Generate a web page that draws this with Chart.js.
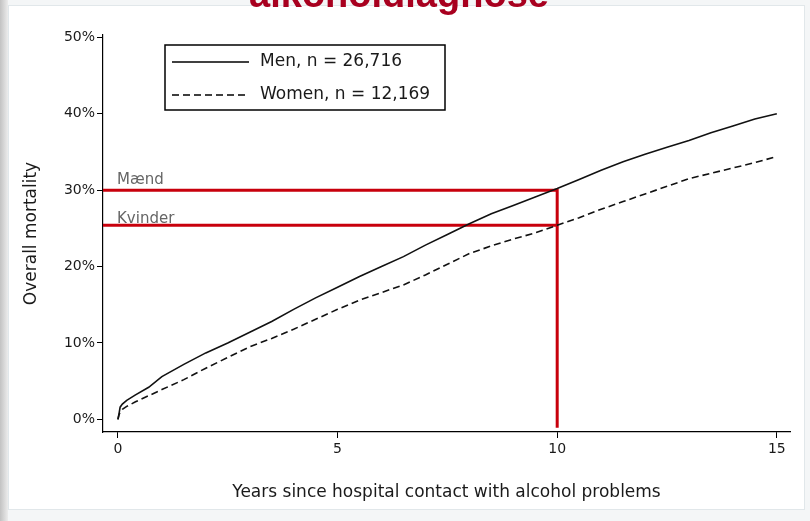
<!DOCTYPE html>
<html>
<head>
<meta charset="utf-8">
<script src="https://cdn.jsdelivr.net/npm/chart.js@4.4.1/dist/chart.umd.min.js"></script>
<style>
  html, body { margin: 0; padding: 0; width: 810px; height: 521px; overflow: hidden; background: #f4f6f7; }
  #strip { position: absolute; left: 0; top: 0; width: 8px; height: 521px; background: linear-gradient(to right, #c2c2c2, #ececec); }
  #panel { position: absolute; left: 8px; top: 5px; width: 797px; height: 505px; background: #fff; border: 1px solid #e1e7ea; box-sizing: border-box; }
  #title { position: absolute; left: 0; top: -25px; width: 798px; text-align: center; font: bold 38px "Liberation Sans", Arial, sans-serif; line-height: 38px; color: #a8001f; }
  canvas { position: absolute; left: 0; top: 0; }
</style>
</head>
<body>
<div id="strip"></div>
<div id="panel"></div>
<canvas id="chart" width="810" height="521"></canvas>
<div id="title">alkoholdiagnose</div>
<script>
// cumulative mortality (%)
const years = [0, 0.02, 0.05, 0.1, 0.2, 0.4, 0.7, 1, 1.5, 2, 2.5, 3, 3.5, 4, 4.5, 5, 5.5, 6, 6.5, 7, 7.5, 8,
  8.5, 9, 9.5, 10, 10.5, 11, 11.5, 12, 12.5, 13, 13.5, 14, 14.5, 15];
const menMortality = [0, 0.6, 1.6, 2.0, 2.5, 3.2, 4.2, 5.6, 7.2, 8.7, 10.0, 11.4, 12.8, 14.4, 15.9, 17.3, 18.7, 20.0,
  21.3, 22.8, 24.2, 25.6, 26.9, 28.0, 29.1, 30.2, 31.4, 32.6, 33.7, 34.7, 35.6, 36.5, 37.5, 38.4, 39.3, 40.0];
const womenMortality = [0, 0.5, 1.0, 1.3, 1.7, 2.3, 3.1, 3.9, 5.2, 6.7, 8.1, 9.5, 10.6, 11.8, 13.1, 14.4, 15.6, 16.6,
  17.6, 18.9, 20.3, 21.7, 22.7, 23.6, 24.4, 25.4, 26.4, 27.5, 28.5, 29.5, 30.5, 31.5, 32.2, 32.9, 33.6, 34.4];

const seriesLabels = ['Men, n = 26,716', 'Women, n = 12,169'];

// red marker at 10 years
const refYear = 10;
const refValues = [30, 25.4];
const refLabels = ['Mænd', 'Kvinder'];

const xTicks = [0, 5, 10, 15];
const yTicks = [0, 10, 20, 30, 40, 50];
const xMin = -0.34, xMax = 15.3;
const yMin = -1.65, yMax = 50.3;
const refBottom = -1.1;

const font = '"DejaVu Sans", sans-serif';
const red = '#c8000c';

const toPoints = (xs, ys) => xs.map((x, i) => ({x, y: ys[i]}));

const overlay = {
  id: 'overlay',
  afterDatasetsDraw(chart) {
    const {ctx, scales: {y}} = chart;
    ctx.save();
    // reference labels
    ctx.font = '15px ' + font;
    ctx.fillStyle = '#666';
    ctx.textBaseline = 'alphabetic';
    ctx.fillText(refLabels[0], chart.chartArea.left + 14, y.getPixelForValue(refValues[0]) - 6);
    ctx.fillText(refLabels[1], chart.chartArea.left + 14, y.getPixelForValue(refValues[1]) - 2);

    // legend box
    ctx.strokeStyle = '#000';
    ctx.lineWidth = 1.5;
    ctx.strokeRect(165, 45, 280, 65);
    const rows = [62, 95];
    chart.data.datasets.slice(0, 2).forEach((ds, i) => {
      ctx.beginPath();
      ctx.setLineDash(ds.borderDash || []);
      ctx.lineWidth = 1.5;
      ctx.moveTo(172, rows[i]);
      ctx.lineTo(249, rows[i]);
      ctx.stroke();
      ctx.setLineDash([]);
      ctx.font = '17px ' + font;
      ctx.fillStyle = '#1a1a1a';
      ctx.textBaseline = 'middle';
      ctx.fillText(ds.label, 260, rows[i]);
    });
    ctx.restore();
  }
};

new Chart(document.getElementById('chart'), {
  type: 'line',
  data: {
    datasets: [
      {label: seriesLabels[0], data: toPoints(years, menMortality), borderColor: '#111', borderWidth: 1.6,
        pointRadius: 0, tension: 0, order: 1},
      {label: seriesLabels[1], data: toPoints(years, womenMortality), borderColor: '#111', borderWidth: 1.6,
        borderDash: [7, 4], pointRadius: 0, tension: 0, order: 1},
      {label: refLabels[0], data: [{x: xMin, y: refValues[0]}, {x: refYear, y: refValues[0]}, {x: refYear, y: refBottom}],
        borderColor: red, borderWidth: 3, pointRadius: 0, order: 2},
      {label: refLabels[1], data: [{x: xMin, y: refValues[1]}, {x: refYear, y: refValues[1]}],
        borderColor: red, borderWidth: 3, pointRadius: 0, order: 2}
    ]
  },
  options: {
    responsive: false,
    animation: false,
    layout: {padding: {left: 0, right: 20, top: 35, bottom: 0}},
    plugins: {legend: {display: false}, tooltip: {enabled: false}},
    scales: {
      x: {
        type: 'linear', min: xMin, max: xMax,
        afterBuildTicks: s => { s.ticks = xTicks.map(v => ({value: v})); },
        afterFit: s => { s.height = 89; },
        grid: {display: true, drawOnChartArea: false, drawTicks: true, tickLength: 6, color: '#000', lineWidth: 1},
        border: {display: true, color: '#000', width: 1.2},
        ticks: {padding: 3, color: '#1a1a1a', font: {family: font, size: 14}, maxRotation: 0},
        title: {display: true, text: 'Years since hospital contact with alcohol problems', color: '#1a1a1a',
          font: {family: font, size: 17}, padding: {top: 0, bottom: 18}}
      },
      y: {
        type: 'linear', min: yMin, max: yMax,
        afterBuildTicks: s => { s.ticks = yTicks.map(v => ({value: v})); },
        afterFit: s => { s.width = 103; },
        grid: {display: true, drawOnChartArea: false, drawTicks: true, tickLength: 6, color: '#000', lineWidth: 1},
        border: {display: true, color: '#000', width: 1.2},
        ticks: {padding: 2, color: '#1a1a1a', font: {family: font, size: 14}, callback: v => v + '%'},
        title: {display: true, text: 'Overall mortality', color: '#1a1a1a',
          font: {family: font, size: 17}, padding: {top: 21, bottom: 0}}
      }
    }
  },
  plugins: [overlay]
});
</script>
</body>
</html>
